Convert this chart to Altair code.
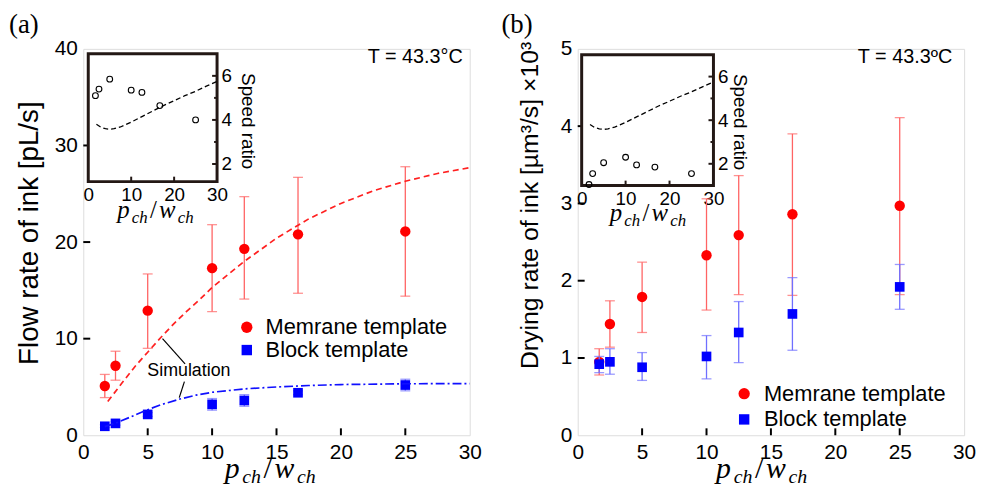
import altair as alt
import pandas as pd

# ---------------- data ----------------
ratio = [1.67, 2.5, 5, 10, 12.5, 16.67, 25]

# panel (a): flow rate of ink [pL/s]
a_mem = [5.1, 7.2, 12.9, 17.3, 19.3, 20.8, 21.1]
a_mem_hi = [6.3, 8.7, 16.7, 21.8, 24.7, 26.7, 27.8]
a_mem_lo = [3.9, 5.7, 9.0, 12.8, 14.1, 14.7, 14.4]
a_blk = [0.93, 1.23, 2.16, 3.2, 3.6, 4.4, 5.2]
a_blk_hi = [1.1, 1.4, 2.35, 3.8, 4.2, 4.6, 5.8]
a_blk_lo = [0.8, 1.05, 1.95, 2.6, 3.0, 4.2, 4.6]

sim_mem_x = [1.9, 3, 4, 5, 6, 7, 8, 9, 10, 12.5, 15, 17.5, 20, 22.5, 25, 27.5, 30]
sim_mem_y = [3.5, 5.4, 7.1, 8.6, 10.1, 11.5, 12.8, 14.0, 15.3, 18.0, 20.4, 22.4, 24.0, 25.3, 26.3, 27.1, 27.7]
sim_blk_x = [1.67, 2.5, 3.5, 5, 6, 7.5, 8.75, 10, 12.5, 15, 17.5, 20, 25, 30]
sim_blk_y = [0.9, 1.25, 1.8, 2.65, 3.15, 3.75, 4.15, 4.45, 4.8, 5.0, 5.15, 5.25, 5.33, 5.35]

# panel (b): drying rate of ink [um^3/s] x10^3
b_mem = [0.95, 1.44, 1.79, 2.33, 2.59, 2.86, 2.97]
b_mem_hi = [1.12, 1.74, 2.24, 3.06, 3.36, 3.90, 4.11]
b_mem_lo = [0.78, 1.14, 1.33, 1.62, 1.82, 1.81, 1.82]
b_blk = [0.92, 0.95, 0.88, 1.02, 1.33, 1.57, 1.92]
b_blk_hi = [1.02, 1.12, 1.07, 1.29, 1.73, 2.04, 2.21]
b_blk_lo = [0.81, 0.79, 0.71, 0.73, 0.94, 1.10, 1.63]

# insets: speed ratio
inset_a_speed = [5.1, 5.4, 5.85, 5.35, 5.25, 4.65, 4.0]
inset_b_speed = [1.05, 1.55, 2.05, 2.3, 1.95, 1.85, 1.55]
inset_sim_x = [1.9, 3, 4, 5, 6, 7.5, 10, 12.5, 15, 17.5, 20, 22.5, 25, 27.5, 30]
inset_sim_y = [3.8, 3.66, 3.6, 3.58, 3.6, 3.68, 3.9, 4.15, 4.4, 4.65, 4.87, 5.1, 5.3, 5.53, 5.75]

# annotation ("Simulation") in panel (a) data units
sim_text_xy = [8.2, 6.6]
leader_x = [6.15, 7.85]
leader_y = [10.0, 5.55]
leader_x2 = [7.9, 7.45]
leader_y2 = [7.4, 3.9]

# ticks and texts
x_ticks = [0, 5, 10, 15, 20, 25, 30]
a_y_ticks = [0, 10, 20, 30, 40]
b_y_ticks = [0, 1, 2, 3, 4, 5]
inset_x_ticks = [0, 10, 20, 30]
inset_y_ticks = [2, 4, 6]
inset_minor_ticks = [3, 5]

legend_labels = ["Memrane template", "Block template"]
panel_tags = ["(a)", "(b)"]
y_titles = ["Flow rate of ink [pL/s]", "Drying rate of ink [µm³/s] ×10³"]
temp_labels = ["T = 43.3°C", "T = 43.3ºC"]
sim_label = "Simulation"
inset_title = "Speed ratio"

# ---------------- style ----------------
W, H = 390, 390
FONT = "Liberation Sans"
SERIF = "Liberation Serif"
RED = "#ff0000"
RED_ERR = "#ff6464"
BLUE = "#0000ff"
BLUE_ERR = "#6f6fff"
FRAME = "#231815"

one = pd.DataFrame({"k": [0]})


def label(text, x, y, size, font=FONT, align="left", baseline="middle",
          angle=0, style="normal"):
    return alt.Chart(one).mark_text(
        text=text, fontSize=size, font=font, align=align, baseline=baseline,
        angle=angle, fontStyle=style, color="black"
    ).encode(x=alt.value(x), y=alt.value(y))


CHAR_W = {"p": 0.5, "c": 0.444, "h": 0.5, "/": 0.278, "w": 0.667}


def math_title(cx, base, big, small, sub_dy):
    pieces = [("p", big, 0, "italic"), ("ch", small, sub_dy, "italic"),
              ("/", big, 0, "normal"), ("w", big, 0, "italic"),
              ("ch", small, sub_dy, "italic")]
    gap = 0.09 * big
    widths = [sum(CHAR_W[c] for c in t) * s + gap for t, s, _, _ in pieces]
    x = cx - sum(widths) / 2
    out = []
    for (t, s, dy, st), w in zip(pieces, widths):
        out.append(label(t, x, base + dy, s, font=SERIF, baseline="alphabetic", style=st))
        x += w
    return out


def panel(i, ydom, yticks, mem, mem_hi, mem_lo, blk, blk_hi, blk_lo,
          speed, inset_box, inset_ydom, legend_pos, ytitle_pos, ytitle_size, tag_x,
          temp_pos, xtitle_cx, inset_title_pos, speed_title_pos, with_sim):
    xs = alt.Scale(domain=[0, 30], nice=False, zero=False)
    ys = alt.Scale(domain=ydom, nice=False, zero=False)
    xaxis = alt.Axis(values=x_ticks, labelFontSize=21, labelFont=FONT, labelColor="black",
                     ticks=False, domain=False, grid=False, title=None,
                     labelPadding=6, labelFlush=False, labelOverlap=False)
    yaxis = alt.Axis(values=yticks, labelFontSize=21, labelFont=FONT, labelColor="black",
                     ticks=False, domain=False, grid=False, title=None,
                     labelPadding=6, labelFlush=False, labelOverlap=False)

    def X(f):
        return alt.X(f, type="quantitative", scale=xs, axis=xaxis)

    def Y(f):
        return alt.Y(f, type="quantitative", scale=ys, axis=yaxis)

    layers = []

    def series(vals, hi, lo, color, ecolor, shape, size):
        df = pd.DataFrame({"x": ratio, "v": vals, "hi": hi, "lo": lo})
        base = alt.Chart(df)
        return [
            base.mark_rule(color=ecolor, strokeWidth=1.3).encode(x=X("x"), y=Y("lo"), y2="hi"),
            base.mark_tick(color=ecolor, orient="horizontal", size=10, thickness=1.3).encode(x=X("x"), y=Y("lo")),
            base.mark_tick(color=ecolor, orient="horizontal", size=10, thickness=1.3).encode(x=X("x"), y=Y("hi")),
            base.mark_point(shape=shape, filled=True, size=size, color=color, opacity=1).encode(x=X("x"), y=Y("v")),
        ]

    layers += series(mem, mem_hi, mem_lo, RED, RED_ERR, "circle", 110)
    layers += series(blk, blk_hi, blk_lo, BLUE, BLUE_ERR, "square", 95)

    if with_sim:
        dfm = pd.DataFrame({"x": sim_mem_x, "y": sim_mem_y})
        dfb = pd.DataFrame({"x": sim_blk_x, "y": sim_blk_y})
        layers.append(alt.Chart(dfm).mark_line(color="#ff2020", strokeDash=[6, 4], strokeWidth=1.7)
                      .encode(x=X("x"), y=Y("y")))
        layers.append(alt.Chart(dfb).mark_line(color="#1010ff", strokeDash=[9, 3, 2, 3], strokeWidth=1.7)
                      .encode(x=X("x"), y=Y("y")))
        dfl = pd.DataFrame({"x": leader_x, "y": leader_y, "x2": leader_x2, "y2": leader_y2})
        layers.append(alt.Chart(dfl).mark_rule(color="black", strokeWidth=1.2)
                      .encode(x=X("x"), y=Y("y"), x2="x2", y2="y2"))
        dft = pd.DataFrame({"x": [sim_text_xy[0]], "y": [sim_text_xy[1]], "t": [sim_label]})
        layers.append(alt.Chart(dft).mark_text(fontSize=18, font=FONT, color="black")
                      .encode(x=X("x"), y=Y("y"), text="t:N"))

    # inward ticks of main axes
    xt = pd.DataFrame({"t": x_ticks[1:-1]})
    yt = pd.DataFrame({"t": yticks[1:-1]})
    layers.append(alt.Chart(xt).mark_rule(color="black", strokeWidth=2)
                  .encode(x=X("t"), y=alt.value(H), y2=alt.value(H - 7)))
    layers.append(alt.Chart(yt).mark_rule(color="black", strokeWidth=2)
                  .encode(y=Y("t"), x=alt.value(0), x2=alt.value(7)))

    # legend
    lx, ly1, ly2, tx = legend_pos
    layers.append(alt.Chart(one).mark_point(shape="circle", filled=True, size=130, color=RED, opacity=1)
                  .encode(x=alt.value(lx), y=alt.value(ly1)))
    layers.append(alt.Chart(one).mark_point(shape="square", filled=True, size=110, color=BLUE, opacity=1)
                  .encode(x=alt.value(lx), y=alt.value(ly2)))
    layers.append(label(legend_labels[0], tx, ly1, 22))
    layers.append(label(legend_labels[1], tx, ly2, 22))

    # texts
    layers.append(label(temp_labels[i], temp_pos[0], temp_pos[1], 20, align="right"))
    layers.append(label(panel_tags[i], tag_x, -24, 27, font=SERIF))
    layers.append(label(y_titles[i], ytitle_pos[0], ytitle_pos[1], ytitle_size,
                        align="center", angle=270))
    layers += math_title(xtitle_cx, H + 43, 30, 20, 5)

    main = alt.layer(*layers)

    # ---- inset ----
    L, R, T, B = inset_box
    xsi = alt.Scale(domain=[0, 30], range=[L, R], nice=False, zero=False)
    ysi = alt.Scale(domain=inset_ydom, range=[B, T], nice=False, zero=False)
    xai = alt.Axis(orient="bottom", offset=B - H, values=inset_x_ticks, labelFontSize=19,
                   labelFont=FONT, labelColor="black", ticks=False, domain=False, grid=False,
                   title=None, labelPadding=4, labelFlush=False, labelOverlap=False)
    yai = alt.Axis(orient="right", offset=R - W, values=inset_y_ticks, labelFontSize=19,
                   labelFont=FONT, labelColor="black", ticks=False, domain=False, grid=False,
                   title=None, labelPadding=4, labelFlush=False, labelOverlap=False)

    def XI(f):
        return alt.X(f, type="quantitative", scale=xsi, axis=xai)

    def YI(f):
        return alt.Y(f, type="quantitative", scale=ysi, axis=yai)

    ins = []
    ins.append(alt.Chart(one).mark_rect(fill="white", stroke=FRAME, strokeWidth=3)
               .encode(x=alt.value(L), x2=alt.value(R), y=alt.value(T), y2=alt.value(B)))
    dfi = pd.DataFrame({"x": ratio, "s": speed})
    dfc = pd.DataFrame({"x": inset_sim_x, "y": inset_sim_y})
    ins.append(alt.Chart(dfc).mark_line(color="black", strokeDash=[5, 3], strokeWidth=1.3)
               .encode(x=XI("x"), y=YI("y")))
    ins.append(alt.Chart(dfi).mark_point(shape="circle", filled=False, size=34, color="black",
                                         strokeWidth=1.1, opacity=1)
               .encode(x=XI("x"), y=YI("s")))
    ixt = pd.DataFrame({"t": inset_x_ticks[1:-1]})
    iyt = pd.DataFrame({"t": inset_y_ticks})
    iym = pd.DataFrame({"t": inset_minor_ticks})
    ins.append(alt.Chart(ixt).mark_rule(color=FRAME, strokeWidth=2)
               .encode(x=XI("t"), y=alt.value(B), y2=alt.value(B - 5)))
    ins.append(alt.Chart(iyt).mark_rule(color=FRAME, strokeWidth=2)
               .encode(y=YI("t"), x=alt.value(R), x2=alt.value(R - 5)))
    ins.append(alt.Chart(iym).mark_rule(color=FRAME, strokeWidth=2)
               .encode(y=YI("t"), x=alt.value(R), x2=alt.value(R - 3)))
    ins.append(label(inset_title, speed_title_pos[0], speed_title_pos[1], 19,
                     align="center", angle=90))
    ins += math_title(inset_title_pos[0], inset_title_pos[1], 25, 17, 5)

    inset = alt.layer(*ins)

    return alt.layer(main, inset).resolve_scale(x="independent", y="independent").properties(
        width=W, height=H)


pa = panel(0, [0, 40], a_y_ticks, a_mem, a_mem_hi, a_mem_lo, a_blk, a_blk_hi, a_blk_lo,
           inset_a_speed, (5, 135, 5, 134), [1.2, 7.0], (165, 281, 304, 184), (-54, 186), 28, -75,
           (383, 8), 190, (74, 171), (166, 73), True)
pb = panel(1, [0, 5], b_y_ticks, b_mem, b_mem_hi, b_mem_lo, b_blk, b_blk_hi, b_blk_lo,
           inset_b_speed, (4, 137, 6, 138), [1.0, 7.0], (168, 348, 374, 188), (-48, 158), 25, -77,
           (378, 8), 187, (72, 174), (164, 74), False)

chart = alt.hconcat(pa, pb, spacing=18).properties(
    padding={"left": 0, "top": 0, "right": 0, "bottom": 0}
).configure_view(stroke="black", strokeWidth=3).configure(font=FONT)

chart.save("out.html", embed_options={"renderer": "svg", "actions": False})
